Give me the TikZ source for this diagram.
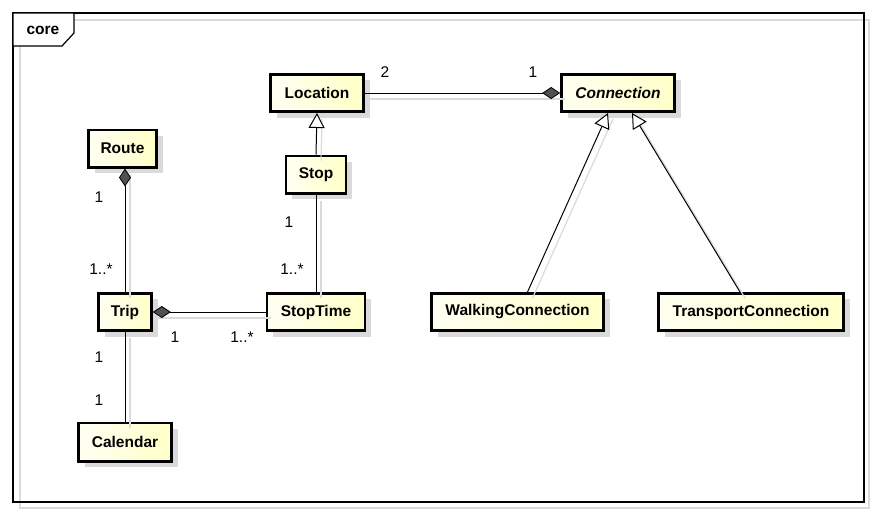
\documentclass[tikz,border=0pt]{standalone}
\usepackage{fontspec}
\setmainfont{Liberation Sans}
\usetikzlibrary{arrows.meta,shadows,calc}
\definecolor{boxL}{RGB}{255,255,242}
\definecolor{boxR}{RGB}{255,255,200}
\definecolor{dia}{RGB}{80,80,80}
\definecolor{shd}{RGB}{218,218,218}
\begin{document}
\begin{tikzpicture}[x=1pt,y=-1pt,
  cls/.style={draw=black, line width=2.6pt, left color=boxL, right color=boxR,
    font=\fontsize{15.5}{18}\selectfont\bfseries, minimum height=37.4pt, inner sep=0pt,
    drop shadow={shadow xshift=6pt, shadow yshift=-6pt, fill=shd, opacity=1}},
  lbl/.style={font=\fontsize{15.5}{18}\selectfont, inner sep=0pt},
  conn/.style={line width=1pt, draw=black,
    preaction={draw=shd, line width=1.2pt, arrows=-, transform canvas={xshift=5pt,yshift=-6pt}}},
  agg/.style={conn, {Diamond[length=18pt,width=12pt,fill=dia,line width=0.8pt]}-},
  aggR/.style={conn, -{Diamond[length=18pt,width=12pt,fill=dia,line width=0.8pt]}},
  gen/.style={conn, -{Triangle[open,length=15pt,width=16pt,fill=white,line width=1pt]}}
]
\useasboundingbox (0,0) rectangle (877,515);
% frame
\draw[shd, line width=1.2pt] (20,20) rectangle (869,508);
\draw[line width=1.4pt] (13,13) rectangle (864,502);
\draw[line width=1.2pt, fill=white] (13,13) -- (74,13) -- (74,33) -- (62,46) -- (13,46) -- cycle;
\node[font=\fontsize{15.5}{18}\selectfont\bfseries, inner sep=0pt] (core) at (43,30) {core};

% classes
\node[cls, minimum width=93pt] (Location) at (317,93) {Location};
\node[cls, minimum width=113pt, font=\fontsize{15.5}{18}\selectfont\bfseries\itshape] (Connection) at (618,93) {Connection};
\node[cls, minimum width=68pt] (Route) at (122.5,148.5) {Route};
\node[cls, minimum width=60pt] (Stop) at (316,174.5) {Stop};
\node[cls, minimum width=53pt] (Trip) at (125,312) {Trip};
\node[cls, minimum width=98pt] (StopTime) at (316,312) {StopTime};
\node[cls, minimum width=172pt] (Walking) at (517.5,312) {WalkingConnection};
\node[cls, minimum width=185pt] (Transport) at (751,312) {TransportConnection};
\node[cls, minimum width=93pt, minimum height=38.4pt] (Calendar) at (125,442) {Calendar};

% connectors
\draw[aggR] (Location.east) -- (Connection.west);
\draw[gen] (Stop.north) -- (Location.south);
\draw[conn] (Stop.south) -- (StopTime.north);
\draw[agg] (Trip.north |- Route.south) -- (Trip.north);
\draw[agg] (Trip.east) -- (StopTime.west);
\draw[conn] (Trip.south) -- (Calendar.north);
\draw[gen] ([xshift=10pt]Walking.north) -- ([xshift=-10pt]Connection.south);
\draw[gen] ([xshift=-11pt]Transport.north) -- ([xshift=14pt]Connection.south);

% multiplicities
\node[lbl] (m1) at (385,72) {2};
\node[lbl] (m2) at (533,72) {1};
\node[lbl] (m3) at (99,197) {1};
\node[lbl] (m4) at (101,269) {1..*};
\node[lbl] (m5) at (289,222) {1};
\node[lbl] (m6) at (292,269) {1..*};
\node[lbl] (m7) at (175,337) {1};
\node[lbl] (m8) at (242,337) {1..*};
\node[lbl] (m9) at (99,357) {1};
\node[lbl] (m10) at (99,400) {1};
\end{tikzpicture}
\end{document}
